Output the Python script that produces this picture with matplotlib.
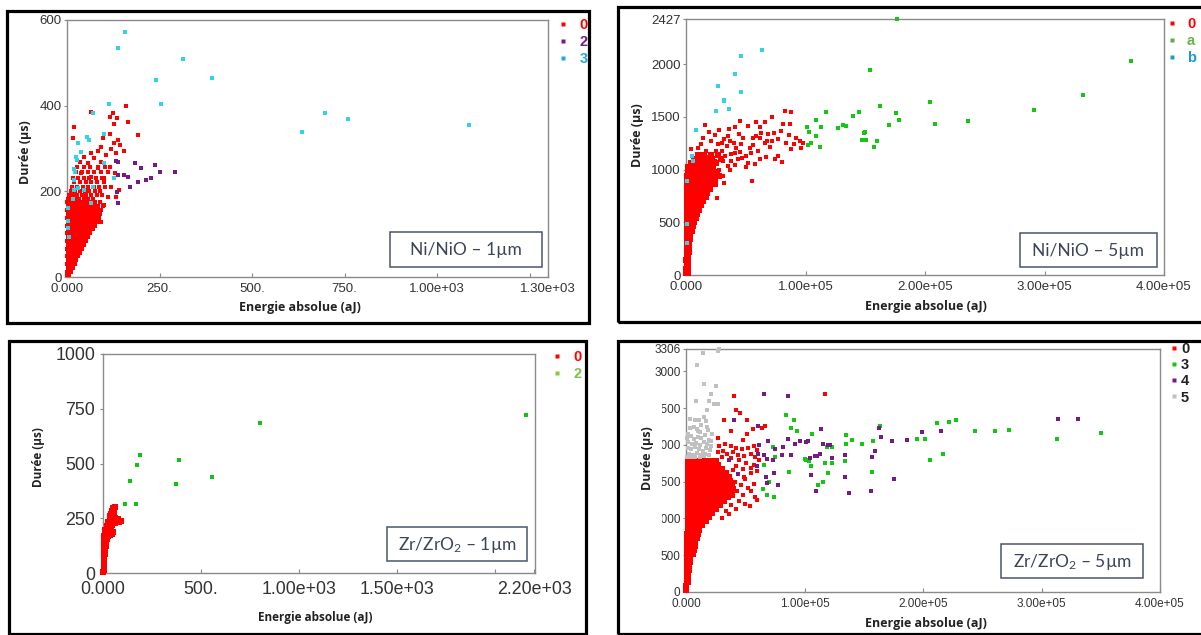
import numpy as np
import matplotlib.pyplot as plt
from matplotlib.patches import Rectangle
from matplotlib.lines import Line2D

plt.rcParams['font.family'] = ['Liberation Sans', 'DejaVu Sans']
plt.rcParams['mathtext.fontset'] = 'custom'
plt.rcParams['mathtext.rm'] = 'Lato'
plt.rcParams['mathtext.default'] = 'regular'

# ================================
# Data (energy in aJ, duration in us)
# ================================
RED = '#ff0000'
CYAN = '#33d3e6'
PURPLE = '#731c88'
GREEN = '#12c812'
GRAY = '#c0c0c0'

# --- Ni/NiO 1um ---
ni1_red_rows = [
    (4, [1, 5]), (12, [1, 7, 12]), (21, [2, 9, 16]), (30, [1, 8, 15, 21]),
    (39, [2, 10, 18, 25]), (48, [1, 9, 17, 25, 31]), (57, [2, 10, 18, 27, 35]),
    (66, [1, 9, 18, 27, 35, 41]), (75, [2, 11, 20, 29, 38, 46]),
    (84, [1, 10, 19, 28, 37, 45, 51]), (93, [2, 11, 20, 30, 39, 48, 56]),
    (102, [1, 10, 19, 29, 38, 47, 56, 63]), (111, [2, 11, 21, 30, 40, 50, 60, 69]),
    (120, [1, 10, 20, 30, 40, 50, 60, 70, 76]), (129, [2, 11, 21, 31, 41, 51, 61, 71, 80]),
    (138, [1, 10, 20, 30, 40, 50, 60, 70, 80, 86]), (147, [2, 11, 21, 31, 41, 51, 61, 71, 81, 90]),
    (156, [1, 10, 20, 30, 40, 50, 60, 70, 80, 92]), (165, [2, 11, 21, 31, 41, 51, 61, 72, 84, 97]),
    (174, [1, 10, 20, 30, 40, 50, 62, 75, 88]), (182, [2, 12, 22, 33, 45, 58, 70]),
    (192, [6, 16, 27, 40, 52, 66, 80, 95]), (201, [10, 22, 35, 48, 60, 76, 90]),
    (211, [14, 28, 42, 57, 72, 86, 104]), (221, [20, 34, 50, 64, 82, 100]),
    (232, [17, 30, 46, 60, 78, 95]), (244, [24, 40, 56, 74, 92, 112]),
    (256, [28, 45, 62, 84, 104]),
]
ni1_red_pts = [
    (160, 400), (65, 386), (124, 384), (117, 374), (134, 372), (166, 361), (128, 357),
    (18, 351), (193, 331), (15, 325), (117, 335), (96, 324), (137, 320), (144, 308),
    (153, 293), (126, 312), (92, 304), (83, 293), (65, 289), (47, 281), (34, 269),
    (74, 277), (106, 285), (119, 300), (132, 289), (56, 265), (92, 269), (115, 257),
    (130, 242), (83, 254), (38, 242), (65, 234), (101, 230), (119, 211), (110, 187),
    (133, 187), (141, 203), (101, 168), (83, 140), (92, 129), (74, 152),
]
ni1_purple_pts = [
    (133, 271), (137, 269), (184, 267), (199, 254), (238, 261), (250, 246), (291, 246),
    (137, 238), (153, 238), (164, 234), (171, 211), (193, 222), (214, 226), (227, 230),
    (135, 199), (137, 172),
]
ni1_cyan_pts = [
    (157, 571), (139, 534), (314, 508), (240, 461), (391, 465), (255, 403), (113, 404),
    (70, 384), (696, 383), (759, 368), (636, 338), (1087, 355), (101, 335), (54, 328),
    (59, 320), (29, 312), (38, 292), (24, 281), (27, 273), (20, 253), (22, 246),
    (18, 226), (29, 207), (20, 203), (15, 183), (47, 203), (69, 211), (101, 265),
    (128, 230), (65, 172), (6, 94), (3, 130), (3, 160), (4, 115),
]

# --- Ni/NiO 5um ---
ni5_red_rows = [
    (20, [300, 1300]), (60, [400, 1500]), (100, [500, 1700]), (140, [400, 1800]),
    (180, [600, 2000]), (220, [500, 2200]), (260, [700, 2500]), (300, [600, 2700]),
    (340, [800, 3000]), (380, [700, 3300]), (420, [900, 3600, 5200]),
    (460, [800, 3800, 6000]), (500, [1000, 4200, 6800]), (540, [900, 4000, 7200, 8400]),
    (580, [1100, 4300, 7500, 9500]), (620, [1000, 4200, 7400, 10500]),
    (660, [1200, 4500, 7800, 11000, 12500]), (700, [1000, 4300, 7600, 10900, 14000]),
    (740, [1200, 4500, 7800, 11100, 14400, 16800]),
    (780, [1000, 4300, 7600, 10900, 14200, 17500]),
    (820, [1200, 4500, 7800, 11100, 14400, 17700, 20500]),
    (860, [1000, 4300, 7600, 10900, 14200, 17500, 21000, 24000]),
    (900, [1200, 4500, 7800, 11100, 14400, 17700, 21000, 24500]),
    (940, [1000, 4300, 7600, 10900, 14200, 17500, 20800, 24200, 27500]),
    (980, [1300, 4600, 7900, 11200, 14500, 17800, 21500, 25500]),
    (1020, [2000, 5300, 8600, 11900, 15200, 18800, 22500]),
    (1060, [4000, 7500, 11000, 15000, 19500, 25000]),
    (1100, [7000, 11500, 16500, 22000, 29000]),
    (1140, [10000, 15000, 21000, 27000]),
]
ni5_red_pts = [
    (82.6e3, 1558), (88.2e3, 1549), (45.6e3, 1463), (16e3, 1425), (58.8e3, 1447),
    (65.8e3, 1447), (72e3, 1501), (51.8e3, 1409), (40.6e3, 1406), (27.2e3, 1377),
    (19.6e3, 1352), (36.4e3, 1383), (61.6e3, 1399), (81.2e3, 1431), (86.8e3, 1431),
    (58.2e3, 1320), (68.6e3, 1336), (79.8e3, 1367), (95.2e3, 1272), (96.6e3, 1208),
    (90.4e3, 1240), (84e3, 1256), (77e3, 1288), (65.8e3, 1256), (53.2e3, 1208),
    (46.2e3, 1240), (54.6e3, 1161), (74.2e3, 1097), (77e3, 1129), (66.6e3, 1119),
    (40e3, 1256), (32.2e3, 1288), (26.6e3, 1240), (43.4e3, 1097), (50.4e3, 1027),
    (55.2e3, 890), (35e3, 1034), (28e3, 1129), (30.8e3, 938), (26e3, 731),
    (21e3, 811), (4.2e3, 1192), (9.8e3, 1208), (12.6e3, 1240), (21e3, 1272),
    (16.8e3, 1177), (25.2e3, 1177), (40.6e3, 1161), (92e3, 1300), (98e3, 1250),
    (88e3, 1190), (80e3, 1076), (30e3, 1180), (34e3, 1220), (38e3, 1150),
    (42e3, 1200), (48e3, 1300), (56e3, 1230), (60e3, 1180), (62e3, 1300),
    (70e3, 1210), (72e3, 1270), (35e3, 1320), (44e3, 1340), (31e3, 1080),
    (37e3, 1000), (47e3, 1110), (52e3, 1060), (58e3, 1050), (28e3, 1000),
    (24e3, 1080), (33e3, 1130), (18e3, 1120), (22e3, 1050), (27e3, 960),
    (32e3, 870), (38e3, 1080), (41e3, 1040), (45e3, 1170), (50e3, 1130),
    (56e3, 1300), (63e3, 1350), (68e3, 1270), (74e3, 1350), (86e3, 1330),
    (62e3, 1100), (14e3, 1300), (24e3, 1330), (30e3, 1250), (37e3, 1270),
]
ni5_green_pts = [
    (176.8e3, 2427), (372e3, 2032), (154e3, 1946), (204e3, 1643), (332e3, 1706),
    (162e3, 1598), (291e3, 1567), (117e3, 1541), (145e3, 1541), (139.5e3, 1510),
    (176e3, 1535), (178e3, 1472), (109e3, 1472), (101e3, 1399), (102.6e3, 1351),
    (113e3, 1399), (127e3, 1389), (131e3, 1424), (134e3, 1415), (170e3, 1418),
    (208e3, 1431), (236e3, 1456), (109e3, 1320), (150e3, 1351), (149e3, 1345),
    (147e3, 1282), (151e3, 1282), (160e3, 1272), (157e3, 1218), (105e3, 1250),
    (102e3, 1234), (112e3, 1218),
]
ni5_cyan_pts = [
    (46.3e3, 2079), (63.3e3, 2130), (40.8e3, 1905), (26.4e3, 1795), (45.7e3, 1738),
    (31.5e3, 1662), (32.2e3, 1652), (36e3, 1576), (24.8e3, 1551), (8e3, 1370),
    (5.2e3, 1124), (6e3, 1082), (0.7e3, 890), (0.5e3, 480), (0.6e3, 305),
]

# --- Zr/ZrO2 1um ---
zr1_red_pts = [
    (2, 5), (3, 15), (4, 25), (5, 35), (5, 45), (6, 55), (6, 65), (7, 75), (8, 85),
    (9, 95), (10, 105), (12, 115), (14, 125), (12, 135), (15, 145), (18, 155),
    (3, 100), (3, 120), (3, 140), (4, 160), (5, 170), (15, 172), (25, 168), (35, 175),
    (8, 182), (20, 185), (32, 188), (45, 180), (10, 195), (25, 198), (40, 192),
    (52, 188), (20, 215), (30, 222), (45, 218), (28, 232), (40, 236), (55, 240),
    (68, 238), (80, 235), (92, 238), (60, 228), (75, 245), (48, 250), (62, 252),
    (38, 258), (50, 262), (42, 270), (55, 275), (48, 285), (58, 292), (62, 300),
    (52, 296),
]
zr1_green_pts = [
    (110, 315), (139, 418), (170, 317), (173, 495), (187, 538), (374, 405),
    (389, 515), (558, 440), (802, 686), (2160, 721),
]

# --- Zr/ZrO2 5um ---
zr5_red_rows = [
    (25, [300]), (80, [400]), (135, [500, 1400]), (190, [500, 1600]),
    (245, [600, 1800]), (300, [700, 2200]), (355, [800, 2600]), (410, [900, 3000]),
    (465, [900, 3500]), (520, [1000, 4000, 5500]), (575, [1000, 4200, 6500]),
    (630, [1100, 4400, 7200]), (685, [1100, 4500, 7800]),
    (740, [1200, 4600, 8000, 9200]), (795, [1200, 4700, 8200, 10200]),
    (850, [1300, 4800, 8300, 11300]), (905, [1300, 4800, 8300, 11800, 13200]),
    (960, [1400, 4900, 8400, 11900, 15000, 16500]),
    (1015, [1400, 4900, 8400, 11900, 15400, 18500, 19800]),
    (1070, [1500, 5000, 8500, 12000, 15500, 19000, 21800]),
    (1125, [1500, 5000, 8500, 12000, 15500, 19000, 22500, 25000]),
    (1180, [1600, 5100, 8600, 12100, 15600, 19100, 22600, 26100, 28500]),
    (1235, [1600, 5100, 8600, 12100, 15600, 19100, 22600, 26100, 29600, 32000]),
    (1290, [1700, 5200, 8700, 12200, 15700, 19200, 22700, 26200, 29700, 33200, 35500]),
    (1345, [1700, 5200, 8700, 12200, 15700, 19200, 22700, 26200, 29700, 33200, 36700, 38500]),
    (1400, [1800, 5300, 8800, 12300, 15800, 19300, 22800, 26300, 29800, 33300, 36800, 39500]),
    (1455, [1800, 5300, 8800, 12300, 15800, 19300, 22800, 26300, 29800, 33300, 36800, 39000]),
    (1510, [1900, 5400, 8900, 12400, 15900, 19400, 22900, 26400, 29900, 33400, 37500]),
    (1565, [1900, 5400, 8900, 12400, 15900, 19400, 22900, 26400, 29900, 33400, 36500]),
    (1620, [2000, 5500, 9000, 12500, 16000, 19500, 23000, 26500, 30000, 34000]),
    (1675, [2000, 5500, 9000, 12500, 16000, 19500, 23000, 26500, 30000]),
    (1730, [2100, 5600, 9100, 12600, 16100, 19600, 23100, 27000]),
    (1785, [2100, 5600, 9100, 12600, 16100, 19600, 23100, 25500]),
]
zr5_red_pts = [
    (40.8e3, 2666), (42.3e3, 2481), (45.9e3, 2435), (31.8e3, 2345), (51.6e3, 2335),
    (38e3, 2190), (56.3e3, 2222), (63.9e3, 2236), (66.7e3, 2254), (51.6e3, 2154),
    (47.9e3, 2063), (26.8e3, 2100), (117.4e3, 2698), (54.4e3, 1170), (58.3e3, 1292),
    (49.3e3, 1564), (54.9e3, 1692), (28e3, 1990), (33e3, 2010), (38e3, 1985),
    (42e3, 1960), (47e3, 1940), (52e3, 1960), (57e3, 1990), (60e3, 1930),
    (27e3, 1900), (31e3, 1920), (35e3, 1880), (40e3, 1900), (44e3, 1870),
    (49e3, 1850), (55e3, 1880), (58e3, 1840), (62e3, 1800), (30e3, 1840),
    (38e3, 1820), (45e3, 1790), (51e3, 1760), (57e3, 1730), (42e3, 1720),
    (48e3, 1680), (55e3, 1620), (60e3, 1650), (40e3, 1660), (44e3, 1600),
    (50e3, 1540), (41e3, 1500), (46e3, 1450), (52e3, 1420), (57e3, 1470),
    (43e3, 1380), (48e3, 1320), (55e3, 1380), (60e3, 1250), (45e3, 1240),
    (40e3, 1300), (50e3, 1200), (38e3, 1180), (42e3, 1130), (34e3, 1100),
    (36e3, 1060), (30e3, 1000),
]
zr5_green_pts = [
    (106.7e3, 2154), (100.3e3, 1814), (101.1e3, 1800), (103.6e3, 1778), (105.9e3, 1710),
    (111.5e3, 1451), (115.7e3, 1492), (119.9e3, 1619), (117.2e3, 1750), (123.6e3, 1760),
    (119.1e3, 1972), (123.3e3, 1972), (135.4e3, 2141), (135.4e3, 2009), (134e3, 1787),
    (139.9e3, 2063), (148.9e3, 2009), (157.4e3, 2054), (156.8e3, 1637), (164.1e3, 2254),
    (195.1e3, 2086), (201.3e3, 2077), (205.8e3, 1791), (216.5e3, 1882), (211.5e3, 2304),
    (222.1e3, 2312), (227.8e3, 2335), (244.1e3, 2195), (260.5e3, 2195), (272.3e3, 2199),
    (313.1e3, 2081), (350e3, 2161), (84.5e3, 2403), (90.9e3, 2345), (88.7e3, 2236),
    (93.8e3, 2190), (73.2e3, 1972), (66.2e3, 1723), (64.8e3, 1406), (68.1e3, 1315),
    (74.6e3, 1292), (70.4e3, 1496), (75e3, 1842), (87e3, 1628),
]
zr5_purple_pts = [
    (96e3, 2050), (101.6e3, 2040), (103.1e3, 2050), (114.3e3, 2222), (115.7e3, 2009),
    (119.9e3, 2005), (121.9e3, 2005), (104.5e3, 1828), (108.7e3, 1846), (110.7e3, 1850),
    (112.9e3, 1882), (122.8e3, 1828), (105.9e3, 1587), (110.1e3, 1370), (134.3e3, 1560),
    (137.4e3, 1342), (134e3, 1864), (155.7e3, 1370), (156.8e3, 1837), (159.1e3, 1918),
    (163e3, 2236), (164.7e3, 2113), (173.7e3, 2054), (175.4e3, 1542), (186.4e3, 2063),
    (199.1e3, 2176), (215.4e3, 2185), (314.2e3, 2349), (331.1e3, 2349), (66.2e3, 2698),
    (85.9e3, 2666), (40.8e3, 2345), (60.6e3, 2254), (69.6e3, 2054), (61.9e3, 1995),
    (75.2e3, 1950), (81.7e3, 1972), (60.6e3, 1873), (66.2e3, 1859), (68.4e3, 1814),
    (73.2e3, 1791), (80.8e3, 1859), (43.7e3, 1610), (60e3, 1710), (67.6e3, 1564),
    (68.4e3, 1483), (74.1e3, 1619), (77.4e3, 1451), (36.6e3, 1791), (86e3, 2084),
    (92e3, 2016), (89e3, 1865),
]
zr5_gray_pts = [
    (14.1e3, 3256), (26.8e3, 3278), (27.5e3, 3300), (9.3e3, 3093), (15e3, 2830),
    (25.4e3, 2800), (21.1e3, 2698), (8.5e3, 2598), (19.7e3, 2598), (24e3, 2562),
    (26.8e3, 2553), (17.8e3, 2481), (3.7e3, 2349), (7.6e3, 2345), (11.3e3, 2345),
    (15.5e3, 2380), (16.9e3, 2326), (6.5e3, 2244), (12.7e3, 2267), (18.3e3, 2199),
    (9.9e3, 2190), (1.4e3, 2154), (1e3, 2100), (4e3, 2120), (7e3, 2080), (10e3, 2110),
    (13e3, 2090), (16e3, 2130), (19e3, 2070), (2e3, 2040), (5e3, 2010), (8.5e3, 2030),
    (12e3, 2000), (15e3, 2040), (18e3, 2010), (21e3, 1990), (1.5e3, 1960),
    (4.5e3, 1940), (7.5e3, 1970), (11e3, 1950), (14e3, 1920), (17e3, 1960),
    (20e3, 1930), (2.5e3, 1880), (6e3, 1870), (9.5e3, 1890), (13e3, 1860),
    (16e3, 1880), (19e3, 1860), (1e3, 1840), (4e3, 1830), (8e3, 1840), (11.5e3, 1830),
    (15e3, 1845), (12e3, 2170), (9e3, 2220), (3e3, 2230), (18e3, 2250), (22e3, 2150),
    (21e3, 2060),
]


def rows_xy(rows):
    xs, ys = [], []
    for y, row in rows:
        xs += row
        ys += [y] * len(row)
    return xs, ys


def pts_xy(pts):
    return [p[0] for p in pts], [p[1] for p in pts]


# ================================
# Figure / layout helpers (pixel boxes of the 1201x635 image)
# ================================
W, H = 1201, 635
fig = plt.figure(figsize=(W / 100, H / 100), dpi=100)
fig.patch.set_facecolor('white')


def fx(x):
    return x / W


def fy(y):
    return 1 - y / H


def make_axes(left, top, right, bottom):
    ax = fig.add_axes([fx(left), fy(bottom), (right - left) / W, (bottom - top) / H])
    for s in ax.spines.values():
        s.set_color('#8a8a8a')
        s.set_linewidth(1.0)
    return ax


def style_ticks(ax, size, xpad, ypad):
    ax.tick_params(axis='x', direction='in', length=3, width=0.8, color='#8a8a8a',
                   labelsize=size, labelcolor='#333333', pad=xpad)
    ax.tick_params(axis='y', direction='out', length=2.5, width=0.8, color='#8a8a8a',
                   labelsize=size, labelcolor='#333333', pad=ypad)


def scatter(ax, xy, color, s=10):
    ax.scatter(xy[0], xy[1], s=s, marker='s', color=color, linewidths=0,
               clip_on=False, zorder=3)


def add_legend(ax, labels, mcolors, tcolors, left, top, size, ms, tpad, spacing):
    handles = [Line2D([], [], ls='', marker='s', ms=ms, color=c, mec='none') for c in mcolors]
    ax.legend(handles, labels, loc='upper left', bbox_to_anchor=(fx(left), fy(top)),
              bbox_transform=fig.transFigure, frameon=False, handlelength=0.5,
              handletextpad=tpad, labelspacing=spacing, borderpad=0, borderaxespad=0,
              prop={'weight': 'bold', 'size': size}, labelcolor=tcolors)


def add_tag(box, text, size):
    l, t, r, b = box
    fig.patches.append(Rectangle((fx(l), fy(b)), (r - l) / W, (b - t) / H,
                                 transform=fig.transFigure, fc='white', ec='#4b5568',
                                 lw=1.1, zorder=3))
    fig.text(fx((l + r) / 2), fy((t + b) / 2 + 1), text, ha='center', va='center',
             fontsize=size, color='#3d4455', family='Lato', zorder=4)


def add_frame(l, t, r, b):
    fig.patches.append(Rectangle((fx(l), fy(b)), (r - l) / W, (b - t) / H,
                                 transform=fig.transFigure, fill=False, ec='black',
                                 lw=2.3, zorder=5))


def axis_labels(xc, xy_, yx, yc, size):
    fig.text(fx(xc), fy(xy_), 'Energie absolue (aJ)', ha='center', va='center',
             fontsize=size, fontweight='bold', color='#222222', family='Open Sans', zorder=6)
    fig.text(fx(yx), fy(yc), 'Durée (µs)', ha='center', va='center', rotation=90,
             fontsize=size, fontweight='bold', color='#222222', family='Open Sans', zorder=6)


# ================================
# Panel 1: Ni/NiO - 1um
# ================================
ax1 = make_axes(67, 20, 548, 277)
scatter(ax1, rows_xy(ni1_red_rows), RED, 12)
scatter(ax1, pts_xy(ni1_red_pts), RED)
scatter(ax1, pts_xy(ni1_purple_pts), PURPLE)
scatter(ax1, pts_xy(ni1_cyan_pts), CYAN)
ax1.set_xlim(0, 1300)
ax1.set_ylim(0, 600)
ax1.set_xticks([0, 250, 500, 750, 1000, 1250, 1300])
ax1.set_xticklabels(['0.000', '250.', '500.', '750.', '1.00e+03', '', '1.30e+03'])
ax1.set_yticks([0, 200, 400, 600])
style_ticks(ax1, 9.5, 4, 1.5)
add_legend(ax1, ['0', '2', '3'], [RED, PURPLE, '#1fa9dc'], [RED, PURPLE, '#1fa9dc'],
           559, 18, 10.5, 3.2, 0.9, 0.2)
add_tag((390, 232, 542, 267), 'Ni/NiO – 1µm', 12.5)
axis_labels(300, 308, 26, 152, 9)
add_frame(7, 11, 589, 323)

# ================================
# Panel 2: Ni/NiO - 5um
# ================================
ax2 = make_axes(686, 19, 1164, 275)
scatter(ax2, rows_xy(ni5_red_rows), RED, 13)
scatter(ax2, pts_xy(ni5_red_pts), RED)
scatter(ax2, pts_xy(ni5_green_pts), GREEN)
scatter(ax2, pts_xy(ni5_cyan_pts), CYAN)
ax2.set_xlim(0, 4e5)
ax2.set_ylim(0, 2427)
ax2.set_xticks([0, 1e5, 2e5, 3e5, 4e5])
ax2.set_xticklabels(['0.000', '1.00e+05', '2.00e+05', '3.00e+05', '4.00e+05'])
ax2.set_yticks([0, 500, 1000, 1500, 2000, 2427])
style_ticks(ax2, 9.5, 4, 1.5)
add_legend(ax2, ['0', 'a', 'b'], [RED, '#62ad46', '#1c9ad6'], [RED, '#6ab34a', '#1c9ad6'],
           1168, 17, 10.5, 3.2, 0.8, 0.2)
add_tag((1020, 233, 1157, 267), 'Ni/NiO – 5µm', 12.5)
axis_labels(926, 306, 637, 135, 9)
add_frame(618, 7, 1215, 322)

# ================================
# Panel 3: Zr/ZrO2 - 1um
# ================================
ax3 = make_axes(103, 354, 535, 573)
scatter(ax3, pts_xy(zr1_red_pts), RED, 13)
scatter(ax3, pts_xy(zr1_green_pts), '#10c40f', 12)
ax3.set_xlim(0, 2205)
ax3.set_ylim(0, 1000)
ax3.set_xticks([0, 500, 1000, 1500, 2000, 2200])
ax3.set_xticklabels(['0.000', '500.', '1.00e+03', '1.50e+03', '', '2.20e+03'])
ax3.set_yticks([0, 250, 500, 750, 1000])
style_ticks(ax3, 12.8, 6, 3)
add_legend(ax3, ['0', '2'], [RED, '#8cc63f'], [RED, '#7cc242'],
           553, 350, 10.5, 3.2, 0.9, 0.2)
add_tag((387, 527, 527, 561), 'Zr/ZrO$_2$ – 1µm', 12.5)
axis_labels(315, 617, 38, 457, 8.5)
add_frame(9, 341, 586, 634)

# ================================
# Panel 4: Zr/ZrO2 - 5um
# ================================
ax4 = make_axes(686, 349, 1160, 592)
scatter(ax4, rows_xy(zr5_red_rows), RED, 14)
scatter(ax4, pts_xy(zr5_red_pts), RED, 9)
scatter(ax4, pts_xy(zr5_green_pts), GREEN, 9)
scatter(ax4, pts_xy(zr5_purple_pts), PURPLE, 9)
scatter(ax4, pts_xy(zr5_gray_pts), GRAY, 9)
ax4.set_xlim(0, 4e5)
ax4.set_ylim(0, 3306)
ax4.set_xticks([0, 1e5, 2e5, 3e5, 4e5])
ax4.set_xticklabels(['0.000', '1.00e+05', '2.00e+05', '3.00e+05', '4.00e+05'])
ax4.set_yticks([0, 500, 1000, 1500, 2000, 2500, 3000, 3306])
style_ticks(ax4, 8.5, 4, 1.5)
add_legend(ax4, ['0', '3', '4', '5'], [RED, GREEN, PURPLE, GRAY], ['#222222'] * 4,
           1170, 342, 10.5, 2.6, 0.25, 0.15)
add_tag((1001, 544, 1143, 578), 'Zr/ZrO$_2$ – 5µm', 12.5)
# the first digit of some tick labels is hidden in the source picture
fig.patches.append(Rectangle((fx(648), fy(527)), 14 / W, 129 / H, transform=fig.transFigure,
                             fc='white', ec='none', zorder=2))
axis_labels(926, 623, 648, 458, 9)
add_frame(618, 341, 1215, 634)

fig.savefig('out.png', dpi=100, facecolor='white')
